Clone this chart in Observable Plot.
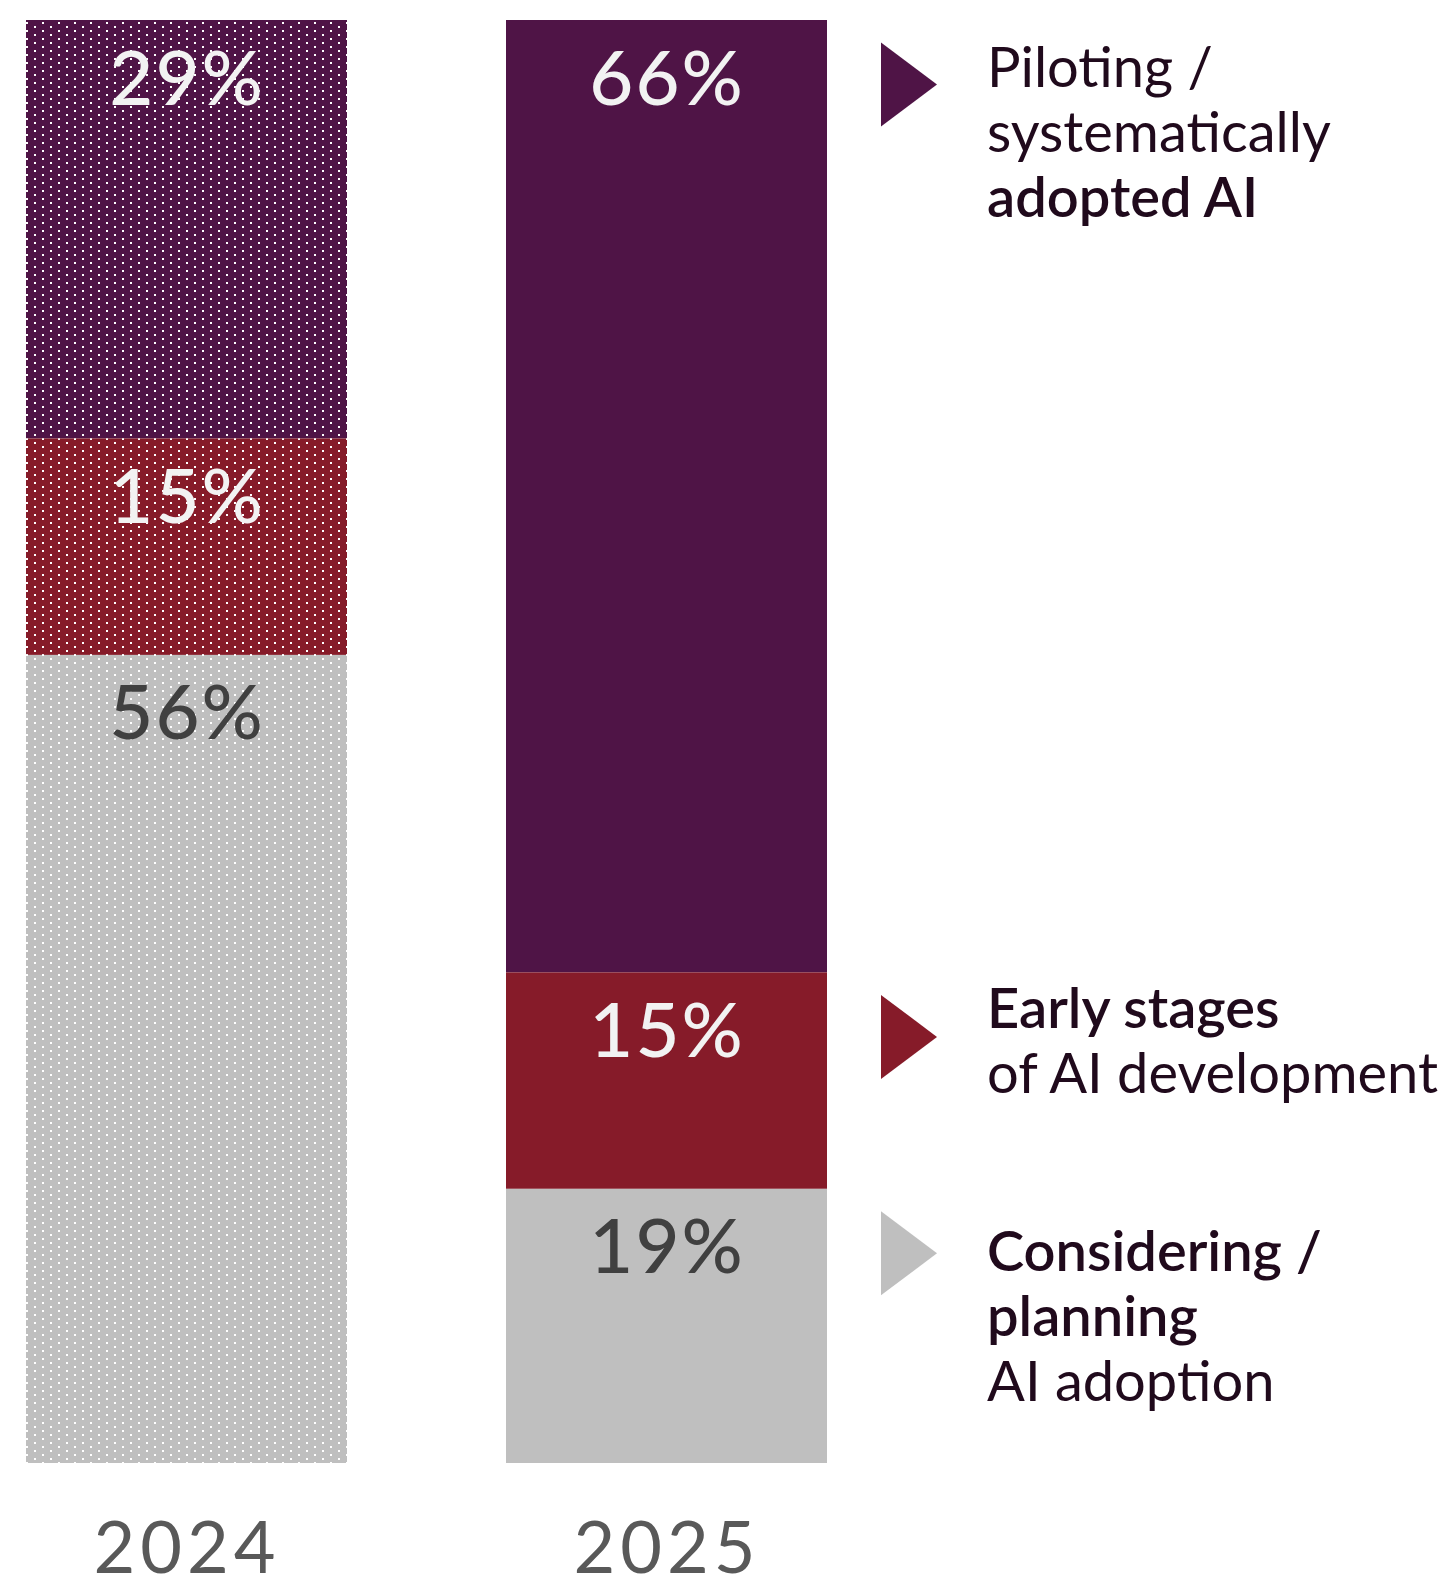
<!DOCTYPE html>
<html>
<head>
<meta charset="utf-8">
<script src="https://cdn.jsdelivr.net/npm/d3@7"></script>
<script src="https://cdn.jsdelivr.net/npm/@observablehq/plot@0.6"></script>
<style>
  html, body { margin: 0; padding: 0; background: #ffffff; }
  #chart svg { display: block; }
  #chart g[aria-label="x-axis tick label"] text { letter-spacing: 5px; }
  #chart g.pct text { letter-spacing: 2px; }
</style>
</head>
<body>
<div id="chart"></div>
<script>
// ---- data ----
const years = ["2024", "2025"];
const stages = [
  "Piloting / systematically adopted AI",
  "Early stages of AI development",
  "Considering / planning AI adoption"
];
const share2024 = [29, 15, 56];
const share2025 = [66, 15, 19];
const stageColors = ["#4F1446", "#861B29", "#BFBFBF"];
const labelColors = ["#F2F2F2", "#F2F2F2", "#404040"];
// legend text lines per stage: [text, bold]
const legendLines = [
  [["Piloting /", false], ["systematically", false], ["adopted AI", true]],
  [["Early stages", true], ["of AI development", false]],
  [["Considering /", true], ["planning", true], ["AI adoption", false]]
];

// ---- table built from the arrays ----
const shares = {"2024": share2024, "2025": share2025};
const rows = years.flatMap(year => stages.map((stage, j) => ({
  year, stage, value: shares[year][j], color: stageColors[j], labelColor: labelColors[j]
})));
const rows2024 = rows.filter(d => d.year === "2024");
const rows2025 = rows.filter(d => d.year === "2025");
const starts2025 = [0, ...d3.cumsum(share2025)];

// per-stage vertical nudge of the legend text block (style)
const legendShift = [0, -11, 16];
const legendText = stages.flatMap((stage, j) =>
  legendLines[j].map(([text, bold], k) => ({year: "2025", stage, start: starts2025[j], text, bold, line: k}))
);

const font = "Lato, 'Open Sans', sans-serif";
const stackOpts = {x: "year", y: "value", z: "stage", order: stages};
const lineHeight = 65;

const triangle = {
  draw(context) {
    context.moveTo(-28, -42);
    context.lineTo(28, 0);
    context.lineTo(-28, 42);
    context.closePath();
  }
};

const legendMarks = [];
for (let k = 0; k < 3; k++) {
  for (const bold of [false, true]) {
    for (let j = 0; j < stages.length; j++) {
      const subset = legendText.filter(d => d.line === k && d.bold === bold && d.stage === stages[j]);
      if (!subset.length) continue;
      legendMarks.push(Plot.text(subset, {
        x: "year", y: "start", text: "text", dx: 320, dy: 66 + legendShift[j] + k * lineHeight,
        textAnchor: "start", lineAnchor: "bottom", fontSize: 56,
        fontWeight: bold ? 600 : 400, fill: "#200A1C"
      }));
    }
  }
}

const chart = Plot.plot({
  width: 1441,
  height: 1585,
  marginTop: 20,
  marginBottom: 122,
  marginLeft: 26,
  marginRight: 613,
  style: {fontFamily: font, background: "#ffffff"},
  x: {type: "band", domain: years, range: [26, 828], paddingInner: 0.331, paddingOuter: 0, align: 0, label: null},
  y: {domain: [0, 100], reverse: true, axis: null},
  color: {type: "identity"},
  marks: [
    Plot.barY(rows, Plot.stackY({...stackOpts, fill: "color"})),
    Plot.barY(rows2024, Plot.stackY({...stackOpts, fill: "url(#dots)"})),
    Plot.text(rows, Plot.stackY1({
      ...stackOpts, text: d => d.value + "%", dy: 84, lineAnchor: "bottom",
      fill: "labelColor", fontSize: 76, fontWeight: 500, className: "pct"
    })),
    Plot.dot(rows2025, Plot.stackY1({...stackOpts, fill: "color", symbol: triangle, dx: 242, dy: 64})),
    ...legendMarks,
    Plot.axisX({tickSize: 0, tickPadding: 58, fontSize: 72, color: "#595959", label: null})
  ]
});

// dotted pattern used for the 2024 bar
const ns = "http://www.w3.org/2000/svg";
const defs = document.createElementNS(ns, "defs");
const pattern = document.createElementNS(ns, "pattern");
pattern.setAttribute("id", "dots");
pattern.setAttribute("width", 16);
pattern.setAttribute("height", 8);
pattern.setAttribute("patternUnits", "userSpaceOnUse");
[[2, 2], [10, 6]].forEach(([px, py]) => {
  const r = document.createElementNS(ns, "rect");
  r.setAttribute("x", px); r.setAttribute("y", py);
  r.setAttribute("width", 2); r.setAttribute("height", 2);
  r.setAttribute("fill", "#ffffff");
  pattern.appendChild(r);
});
defs.appendChild(pattern);
chart.insertBefore(defs, chart.firstChild);

document.getElementById("chart").appendChild(chart);
</script>
</body>
</html>
